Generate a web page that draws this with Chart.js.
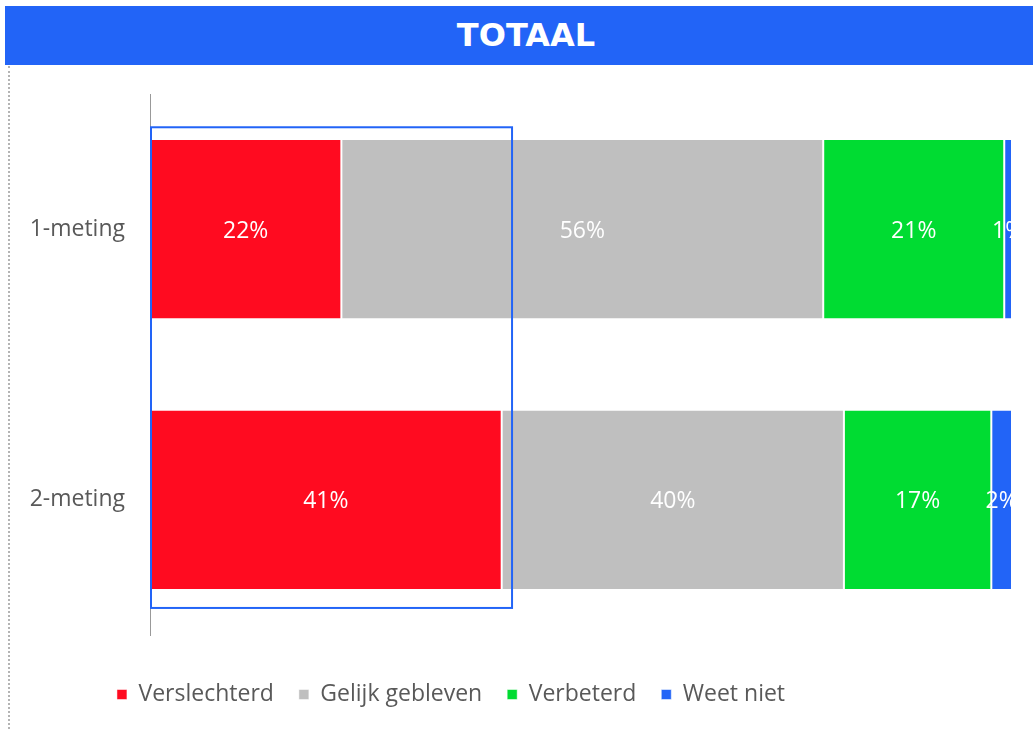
<!DOCTYPE html>
<html>
<head>
<meta charset="utf-8">
<script src="https://cdn.jsdelivr.net/npm/chart.js@4/dist/chart.umd.min.js"></script>
<style>
  body { margin: 0; background: #fff; }
  .wrap { position: relative; width: 1033px; height: 729px; overflow: hidden; }
  .title {
    position: absolute; left: 5px; right: 0; top: 6px; height: 59px;
    background: #2264F7; color: #fff;
    font: bold 32px "DejaVu Sans", sans-serif;
    text-align: center; line-height: 59px; padding-left: 14px;
  }
  .dots { position: absolute; left: 8px; top: 66px; bottom: 0; border-left: 2px dotted #b4b4b4; }
  .box { position: absolute; left: 0; top: 66px; width: 1033px; height: 663px; }
</style>
</head>
<body>
<div class="wrap">
  <div class="title">TOTAAL</div>
  <div class="dots"></div>
  <div class="box"><canvas id="totaalChart"></canvas></div>
</div>
<script>
const categories = ['1-meting', '2-meting'];
const seriesNames = ['Verslechterd', 'Gelijk gebleven', 'Verbeterd', 'Weet niet'];
const verslechterd = [22.2, 40.8];
const gelijkGebleven = [55.9, 39.7];
const verbeterd = [21.0, 17.1];
const weetNiet = [0.9, 2.4];
const colors = ['#FF0B20', '#BFBFBF', '#00DC32', '#2264F7'];

// % labels inside the bars, clipped to the plot area
const barLabels = {
  id: 'barLabels',
  afterDatasetsDraw(chart) {
    const ctx = chart.ctx;
    const area = chart.chartArea;
    ctx.save();
    ctx.beginPath();
    ctx.rect(area.left, area.top, area.right - area.left, area.bottom - area.top);
    ctx.clip();
    ctx.font = '23px "Open Sans"';
    ctx.fillStyle = '#fff';
    ctx.textAlign = 'center';
    ctx.textBaseline = 'middle';
    chart.data.datasets.forEach(function(ds, i) {
      chart.getDatasetMeta(i).data.forEach(function(bar, j) {
        ctx.fillText(Math.round(ds.data[j]) + '%', (bar.x + bar.base) / 2, bar.y + 2);
      });
    });
    ctx.restore();

    // highlight box around the red part
    const x = chart.scales.x, y = chart.scales.y;
    ctx.save();
    ctx.strokeStyle = '#2264F7';
    ctx.lineWidth = 2;
    const l = x.getPixelForValue(0) + 1, r = x.getPixelForValue(42);
    const t = y.getPixelForValue(-0.377), b = y.getPixelForValue(1.40);
    ctx.strokeRect(l, t, r - l, b - t);
    ctx.restore();
  }
};

// legend sits a bit left of centre in the original
const legendShift = {
  id: 'legendShift',
  afterLayout(chart) {
    chart.legend.left -= 55;
    chart.legend.right -= 55;
  }
};

const ctx = document.getElementById('totaalChart');
new Chart(ctx, {
  type: 'bar',
  data: {
    labels: categories,
    datasets: [verslechterd, gelijkGebleven, verbeterd, weetNiet].map(function(d, i) {
      return {
        label: seriesNames[i],
        data: d,
        backgroundColor: colors[i],
        borderColor: '#fff',
        borderWidth: { left: 1, right: 1, top: 0, bottom: 0 },
        borderSkipped: false,
        categoryPercentage: 1,
        barPercentage: 0.66
      };
    })
  },
  options: {
    indexAxis: 'y',
    responsive: true,
    maintainAspectRatio: false,
    animation: false,
    layout: { padding: { top: 28, right: 21, bottom: 13, left: 0 } },
    plugins: {
      legend: {
        position: 'bottom',
        labels: {
          boxWidth: 10,
          boxHeight: 10,
          padding: 25,
          color: '#595959',
          font: { family: 'Open Sans', size: 23 }
        }
      },
      tooltip: { enabled: false }
    },
    scales: {
      x: {
        stacked: true,
        min: 0,
        max: 100,
        ticks: { display: false },
        grid: { display: false },
        border: { display: false },
        afterFit(scale) { scale.height = 23; }
      },
      y: {
        stacked: true,
        grid: { display: false },
        border: { display: true, color: '#999999', width: 1 },
        ticks: {
          padding: 17,
          color: '#595959',
          font: { family: 'Open Sans', size: 23 }
        },
        afterFit(scale) {
          scale.width = 150;
          scale.paddingTop = 0;
          scale.paddingBottom = 0;
        }
      }
    }
  },
  plugins: [barLabels, legendShift]
});
</script>
</body>
</html>
